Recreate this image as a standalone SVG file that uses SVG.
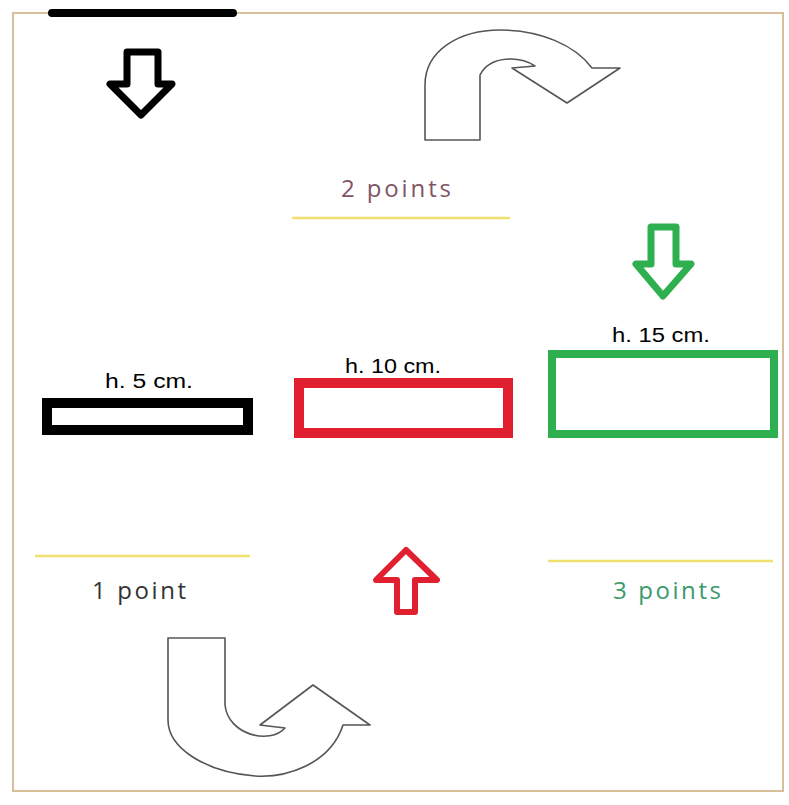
<svg xmlns="http://www.w3.org/2000/svg" width="789" height="805" viewBox="0 0 789 805">
<style>
.lbl{font-family:"Liberation Sans",Arial,sans-serif;font-size:20px;fill:#000;text-anchor:middle}
.pts{font-family:"Open Sans","Noto Sans",sans-serif;font-size:24px;text-anchor:middle}
.yl{stroke:#f0e070;stroke-width:2.5;fill:none}
.curv{fill:#fff;stroke:#555;stroke-width:1.6;stroke-linejoin:round}
.blk{fill:#fff;stroke-linejoin:round}
</style>
<rect width="789" height="805" fill="#fff"/>
<rect x="13" y="13" width="770" height="778" fill="none" stroke="#d8bf9c" stroke-width="2"/>
<line x1="52" y1="13" x2="233" y2="13" stroke="#000" stroke-width="8" stroke-linecap="round"/>
<g id="connectors">
<polygon id="arrow-black" class="blk" stroke="#000" stroke-width="7" points="127,52 158,52 158,84 172,84 141,115 110,84 127,84"/>
<path id="arrow-top-curve" class="curv" d="M425 140 L425 85 C425 50 460 30 500 30 C540 30 575 45 592 68 L620 68 L567 103 L512 68 L535 66 C520 56 490 55 480 75 L480 140 Z"/>
<polygon id="arrow-green" class="blk" stroke="#2fb050" stroke-width="7" points="651,227 676,227 676,264 691,264 663,296 636,264 651,264"/>
<polygon id="arrow-red" class="blk" stroke="#e0202f" stroke-width="6" points="406,550 437,580 415,580 415,612 397,612 397,580 376,580"/>
<path id="arrow-bottom-curve" class="curv" d="M168 638 L225 638 L225 705 C228 735 270 745 285 728 L260 725 L313 685 L370 725 L343 725 C330 765 285 778 255 776 C205 772 168 748 168 720 Z"/>
</g>
<g id="node-2points">
<text class="pts" x="396" y="197" fill="#7f5566" textLength="110" lengthAdjust="spacing">2 points</text>
<line class="yl" x1="292" y1="218" x2="510" y2="218"/>
</g>
<g id="node-h5">
<text class="lbl" x="149" y="388" textLength="88" lengthAdjust="spacingAndGlyphs">h. 5 cm.</text>
<rect x="47" y="403" width="201" height="27" fill="#fff" stroke="#000" stroke-width="10"/>
</g>
<g id="node-h10">
<text class="lbl" x="393" y="373" textLength="96" lengthAdjust="spacingAndGlyphs">h. 10 cm.</text>
<rect x="299" y="383" width="209" height="50" fill="#fff" stroke="#e0202f" stroke-width="10"/>
</g>
<g id="node-h15">
<text class="lbl" x="661" y="342" textLength="98" lengthAdjust="spacingAndGlyphs">h. 15 cm.</text>
<rect x="552" y="354" width="222" height="80" fill="#fff" stroke="#2fb050" stroke-width="8"/>
</g>
<g id="node-1point">
<line class="yl" x1="35" y1="556" x2="250" y2="556"/>
<text class="pts" x="139" y="599" fill="#333" textLength="94" lengthAdjust="spacing">1 point</text>
</g>
<g id="node-3points">
<line class="yl" x1="548" y1="561" x2="773" y2="561"/>
<text class="pts" x="667" y="599" fill="#3a9a6a" textLength="108" lengthAdjust="spacing">3 points</text>
</g>
</svg>
